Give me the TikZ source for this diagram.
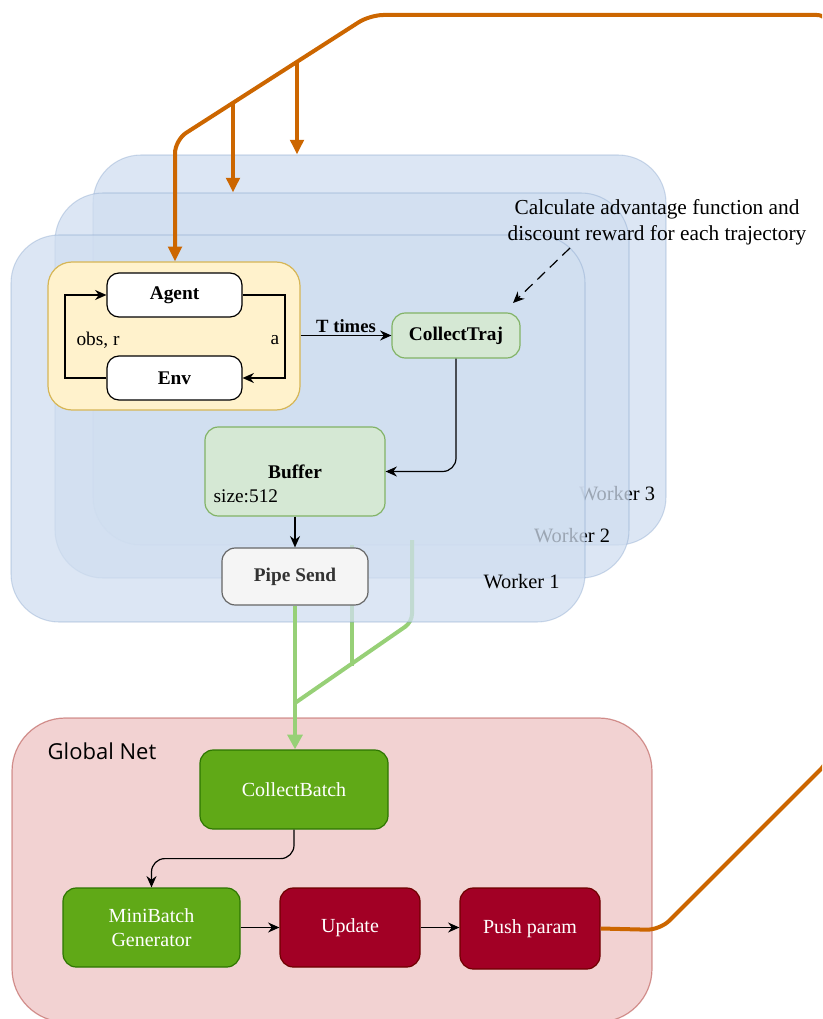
\documentclass[tikz,border=0pt]{standalone}
\usepackage{fontspec}
\setmainfont{Liberation Serif}
\newfontfamily\gnfont{Open Sans}
\usetikzlibrary{arrows.meta,calc,shadows}
\definecolor{wfill}{HTML}{D0DEF0}
\definecolor{wdraw}{HTML}{6C8EBF}
\definecolor{yfill}{HTML}{FFF2CC}
\definecolor{ydraw}{HTML}{D6B656}
\definecolor{gfill}{HTML}{D5E8D4}
\definecolor{gdraw}{HTML}{82B366}
\definecolor{pfill}{HTML}{F5F5F5}
\definecolor{pdraw}{HTML}{666666}
\definecolor{ptext}{HTML}{333333}
\definecolor{rfill}{HTML}{F2D2D2}
\definecolor{rdraw}{HTML}{B85450}
\definecolor{dgreen}{HTML}{60A917}
\definecolor{dgreend}{HTML}{2D7600}
\definecolor{dred}{HTML}{A20025}
\definecolor{dredd}{HTML}{6F0000}
\definecolor{orng}{HTML}{CC6600}
\definecolor{lgreen}{HTML}{97D077}
\begin{document}
\begin{tikzpicture}[x=0.75pt,y=-0.75pt,
  panel/.style={draw=wdraw,draw opacity=0.3,fill=wfill,fill opacity=0.75,rounded corners=36pt,line width=0.8pt},
  wlabel/.style={font=\fontsize{15.3}{17}\selectfont,inner sep=0pt},
  bbox/.style={draw=black,fill=white,rounded corners=9pt,line width=0.9pt,font=\fontsize{14.5}{16}\selectfont\bfseries,minimum width=101.25pt,minimum height=33pt},
  gbox/.style={draw=gdraw,fill=gfill,rounded corners=10pt,line width=0.9pt,font=\fontsize{14.5}{16}\selectfont\bfseries},
  solid box/.style={rounded corners=10pt,line width=0.9pt,text=white,font=\fontsize{15}{18.5}\selectfont,align=center,minimum height=59.25pt},
  arr/.style={-{Stealth[length=8.5pt,width=7.5pt]},line width=0.9pt,draw=black},
  oarr/.style={draw=orng,line width=3pt,rounded corners=10pt},
  garr/.style={draw=lgreen,line width=3pt,rounded corners=6pt},
  lbl/.style={font=\fontsize{14.5}{16}\selectfont,inner sep=0pt}
]
\useasboundingbox (0,0) rectangle (822,1019);
\clip (0,0) rectangle (822,1019);

% worker panels
\node[panel,minimum width=429.75pt,minimum height=292.5pt] (w3) at (379.5,350) {};
\node[wlabel] (l3) at (617,494) {Worker 3};
\node[panel,minimum width=430.5pt,minimum height=288.75pt] (w2) at (342,385.5) {};
\node[wlabel] (l2) at (572,536) {Worker 2};
\coordinate (g3s) at (412,540);
\coordinate (g2s) at (352,545);
\coordinate (gj) at (295,703);
\draw[garr] (g3s) -- (412,622) -- (gj);
\draw[garr] (g2s) -- (352,666);
\node[panel,minimum width=430.5pt,minimum height=290.25pt] (w1) at (298,428.5) {};
\node[wlabel] (l1) at (521.5,582) {Worker 1};

% agent/env loop
\node[draw=ydraw,fill=yfill,rounded corners=18pt,line width=0.9pt,minimum width=189pt,minimum height=111pt] (yel) at (174,336) {};
\node[bbox] (agent) at (174.5,295) {Agent};
\node[bbox] (env) at (174.5,378) {Env};
\draw[arr] (env.west) -- (65,378) -- (65,295) -- (agent.west);
\draw[arr] (agent.east) -- (285,295) -- (285,378) -- (env.east);
\node[lbl] (obs) at (98,340) {obs, r};
\node[lbl] (la) at (275,340) {a};

% collect traj
\node[gbox,minimum width=96pt,minimum height=33.75pt] (ctraj) at (456,335.5) {CollectTraj};
\draw[arr] (yel.east |- ctraj.west) -- node[above=2pt,font=\fontsize{14}{16}\selectfont\bfseries,inner sep=0pt] (tt) {T times} (ctraj.west);

\node[align=center,font=\fontsize{16}{19.5}\selectfont,inner sep=0pt] (note) at (657,222) {Calculate advantage function and\\discount reward for each trajectory};
\coordinate (ns) at (570,248);
\coordinate (ne) at (513,303);
\draw[arr,dashed,dash pattern=on 8pt off 5pt] (ns) -- (ne);

% buffer
\node[gbox,minimum width=135pt,minimum height=66.75pt] (buffer) at (295,471.5) {Buffer};
\node[lbl,anchor=base west] (bsize) at ($(buffer.south west)+(9,-14)$) {size:512};
\draw[arr,rounded corners=10pt] (ctraj.south) -- (ctraj.south |- buffer.east) -- (buffer.east);

% pipe send
\node[draw=pdraw,fill=pfill,text=ptext,rounded corners=10pt,line width=0.9pt,font=\fontsize{14.5}{16}\selectfont\bfseries,minimum width=109.5pt,minimum height=42.75pt] (pipe) at (295,576.5) {Pipe Send};
\draw[arr] (buffer.south) -- (pipe.north);

% global net
\node[draw=rdraw,draw opacity=0.6,fill=rfill,rounded corners=40pt,line width=0.9pt,minimum width=480pt,minimum height=228pt] (gnet) at (332,870) {};
\node[font=\gnfont\fontsize{16.5}{18}\selectfont,inner sep=0pt] (gnl) at (102,751) {Global Net};

\node[solid box,draw=dgreend,fill=dgreen,minimum width=141pt] (cbatch) at (294,789.5) {CollectBatch};
\node[solid box,draw=dgreend,fill=dgreen,minimum width=132.75pt] (mbg) at (151.5,927.5) {MiniBatch\\Generator};
\node[solid box,draw=dredd,fill=dred,minimum width=105pt] (upd) at (350,927.5) {Update};
\node[solid box,draw=dredd,fill=dred,minimum width=105pt,minimum height=60.75pt] (push) at (530,928.5) {Push param};

\draw[arr,rounded corners=10pt] (cbatch.south) -- ++(0,29) -| (mbg.north);
\draw[arr] (mbg.east) -- (upd.west);
\draw[arr] (upd.east) -- (upd.east -| push.west);

% green main arrow
\draw[garr,-{Triangle[length=11pt,width=11pt]}] (pipe.south) -- (pipe.south |- cbatch.north);

% orange loop
\coordinate (o1) at (660,930);
\coordinate (o2) at (830,760);
\coordinate (o3) at (830,15);
\coordinate (o4) at (370,15);
\coordinate (o5) at (175,140);
\draw[oarr,-{Triangle[length=11pt,width=10pt]}] (push.east) -- (o1) -- (o2) -- (o3) -- (o4) -- (o5) -- (o5 |- yel.north);
\coordinate (b3) at (297,62);
\coordinate (b2) at (233,102);
\draw[oarr,-{Triangle[length=11pt,width=10pt]}] (b3) -- (b3 |- w3.north);
\draw[oarr,-{Triangle[length=11pt,width=10pt]}] (b2) -- (b2 |- w2.north);
\end{tikzpicture}
\end{document}
